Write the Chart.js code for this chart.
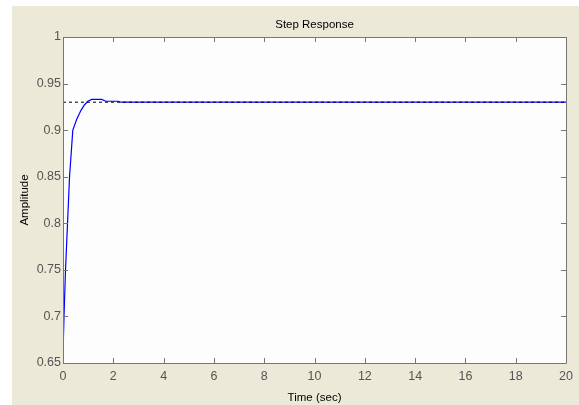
<!DOCTYPE html>
<html>
<head>
<meta charset="utf-8">
<script src="https://cdn.jsdelivr.net/npm/chart.js@4"></script>
<style>
html,body{margin:0;padding:0;background:#fff;}
#wrap{width:579px;height:405px;}
</style>
</head>
<body>
<div id="wrap"><canvas id="c" width="579" height="405"></canvas></div>
<script>
// Data
const timeValues = [0, 0.04, 0.1, 0.18, 0.26, 0.39, 0.55, 0.71, 0.85, 0.99, 1.14, 1.54, 1.7, 2.2, 2.3, 20];
const amplitudeValues = [0.66, 0.70, 0.75, 0.80, 0.85, 0.90, 0.912, 0.921, 0.927, 0.931, 0.933, 0.933, 0.931, 0.931, 0.93, 0.93];
const steadyTime = [0, 20];
const steadyValue = [0.93, 0.93];
const xTickValues = [0, 2, 4, 6, 8, 10, 12, 14, 16, 18, 20];
const yTickValues = [0.65, 0.7, 0.75, 0.8, 0.85, 0.9, 0.95, 1];
const chartTitle = 'Step Response';
const xTitle = 'Time (sec)';
const yTitle = 'Amplitude';

const FONT = "'Liberation Sans', Arial, sans-serif";

const framePlugin = {
  id: 'frame',
  beforeDraw(chart) {
    const ctx = chart.ctx, a = chart.chartArea;
    ctx.save();
    ctx.fillStyle = '#ffffff';
    ctx.fillRect(0, 0, chart.width, chart.height);
    ctx.fillStyle = '#ECE9D8';
    ctx.fillRect(12, 6, chart.width - 12, chart.height - 6);
    ctx.fillStyle = '#fdfdfd';
    ctx.fillRect(a.left, a.top, a.right - a.left, a.bottom - a.top);
    ctx.restore();
  },
  afterDraw(chart) {
    const ctx = chart.ctx, a = chart.chartArea;
    const xs = chart.scales.x, ys = chart.scales.y;
    ctx.save();
    ctx.strokeStyle = '#767676';
    ctx.lineWidth = 1;
    ctx.beginPath();
    ctx.rect(Math.round(a.left) + 0.5, Math.round(a.top) + 0.5, Math.round(a.right - a.left), Math.round(a.bottom - a.top));
    ctx.stroke();
    const tl = 5;
    ctx.beginPath();
    xs.ticks.forEach(t => {
      const px = Math.round(xs.getPixelForValue(t.value)) + 0.5;
      ctx.moveTo(px, a.bottom); ctx.lineTo(px, a.bottom - tl);
      ctx.moveTo(px, a.top); ctx.lineTo(px, a.top + tl);
    });
    ys.ticks.forEach(t => {
      const py = Math.round(ys.getPixelForValue(t.value)) + 0.5;
      ctx.moveTo(a.left, py); ctx.lineTo(a.left + tl, py);
      ctx.moveTo(a.right, py); ctx.lineTo(a.right - tl, py);
    });
    ctx.stroke();
    ctx.restore();
  }
};

new Chart(document.getElementById('c'), {
  type: 'scatter',
  data: {
    datasets: [
      {
        label: 'steady',
        data: steadyTime.map((t, i) => ({x: t, y: steadyValue[i]})),
        showLine: true,
        borderColor: '#000000',
        borderWidth: 1,
        borderDash: [3, 3],
        pointRadius: 0,
        order: 0
      },
      {
        label: 'response',
        data: timeValues.map((t, i) => ({x: t, y: amplitudeValues[i]})),
        showLine: true,
        borderColor: '#0000ff',
        borderWidth: 1.2,
        pointRadius: 0,
        tension: 0,
        order: 1
      }
    ]
  },
  options: {
    responsive: false,
    animation: false,
    devicePixelRatio: 1,
    layout: {padding: {left: 12, top: 6, right: 9, bottom: 0}},
    plugins: {
      legend: {display: false},
      tooltip: {enabled: false},
      title: {
        display: true,
        text: chartTitle,
        color: '#000',
        fullSize: false,
        font: {family: FONT, size: 11.5, weight: 'normal'},
        padding: {top: 11.5, bottom: 5.7}
      }
    },
    scales: {
      x: {
        type: 'linear',
        min: 0, max: 20,
        afterBuildTicks: s => { s.ticks = xTickValues.map(v => ({value: v})); },
        afterFit: s => { s.height = 42; },
        grid: {display: false, drawTicks: false},
        border: {display: false},
        ticks: {color: '#555555', font: {family: FONT, size: 12.5}, padding: 6, maxRotation: 0, autoSkip: false},
        title: {display: true, text: xTitle, color: '#000', font: {family: FONT, size: 11.5}, padding: {top: 0, bottom: 0}}
      },
      y: {
        type: 'linear',
        min: 0.65, max: 1,
        afterBuildTicks: s => { s.ticks = yTickValues.map(v => ({value: v})); },
        afterFit: s => { s.width = 51; },
        grid: {display: false, drawTicks: false},
        border: {display: false},
        ticks: {color: '#555555', font: {family: FONT, size: 12.5}, padding: 2, autoSkip: false,
          callback: v => String(v)},
        title: {display: true, text: yTitle, color: '#000', font: {family: FONT, size: 11.5}, padding: {top: 6, bottom: 0}}
      }
    }
  },
  plugins: [framePlugin]
});
</script>
</body>
</html>
